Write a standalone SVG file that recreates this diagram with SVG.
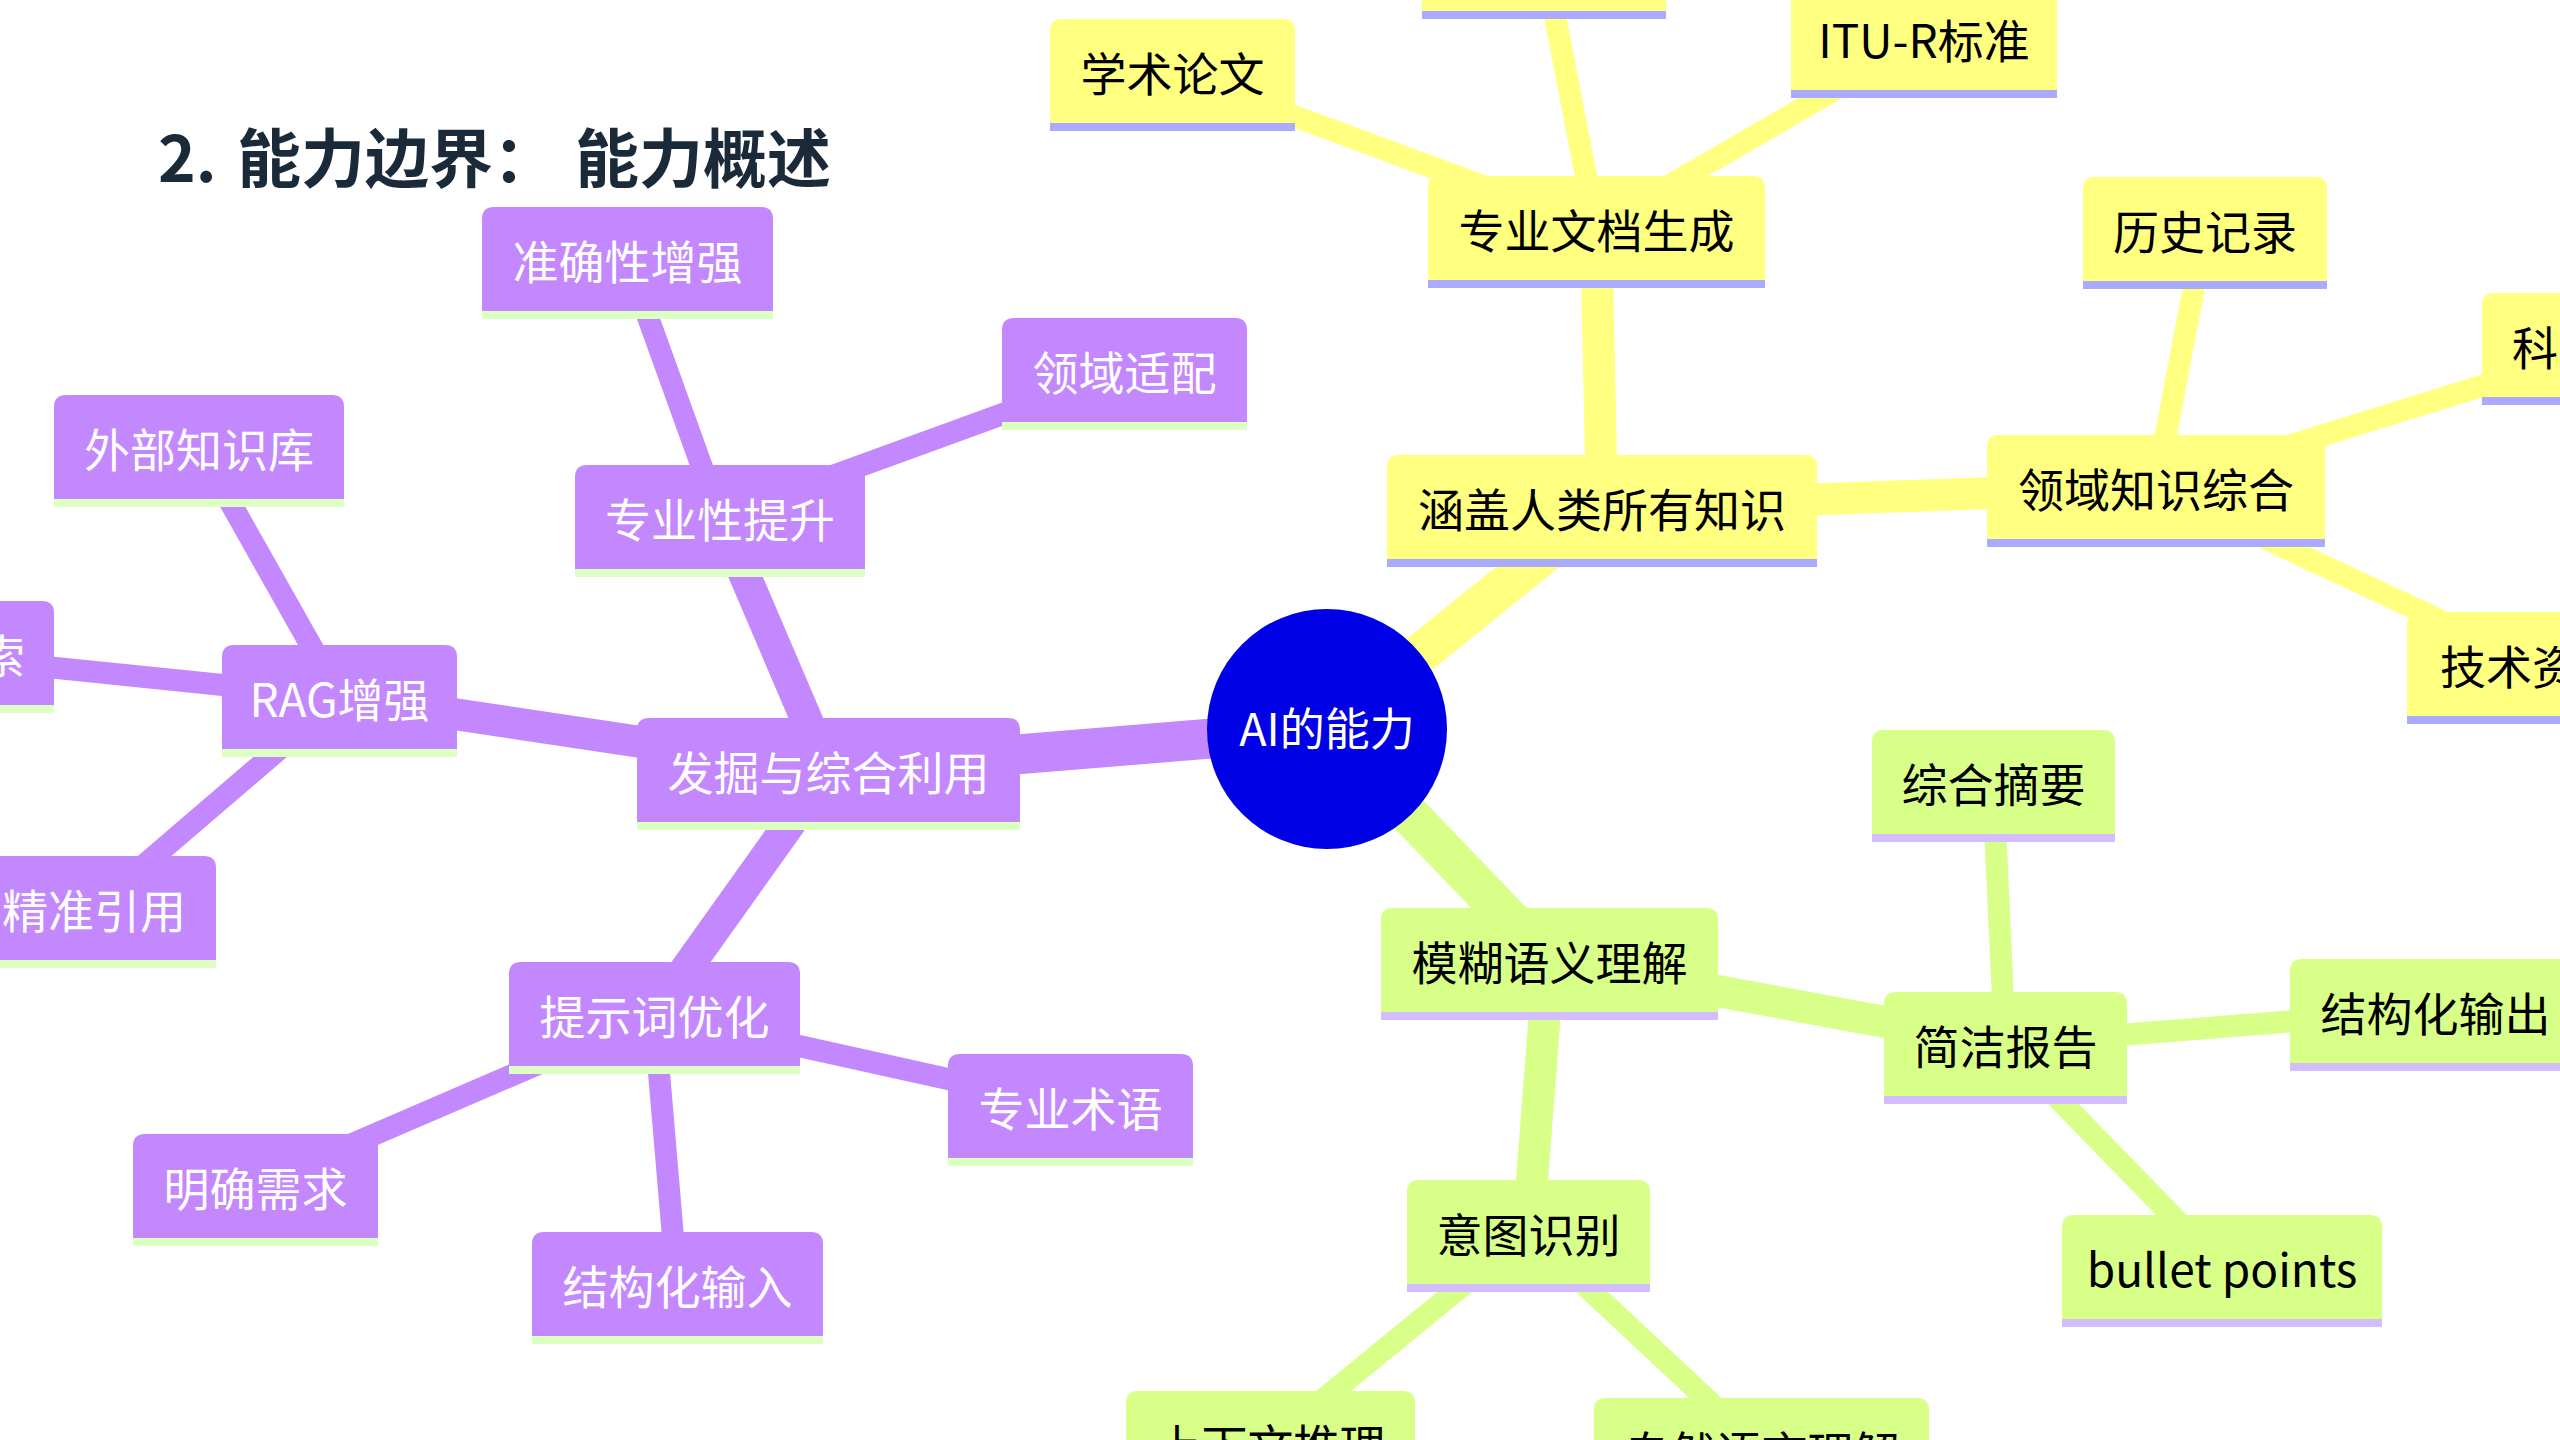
<svg xmlns="http://www.w3.org/2000/svg" width="2560" height="1440" viewBox="0 0 2560 1440">
<style>
text{font-family:"Noto Sans CJK SC","Noto Sans",sans-serif;font-size:46px}
.title{font-size:64px;font-weight:bold;fill:#1b2a39}
.p{fill:#c488fe}.ps{fill:#dcffc2}.pt{fill:#ffffff;text-anchor:middle}
.y{fill:#ffff80}.ys{fill:#aaaaff}.yt{fill:#000000;text-anchor:middle}
.g{fill:#d8ff88}.gs{fill:#d4bdff}.gt{fill:#000000;text-anchor:middle}
.cp{stroke:#c488fe;fill:none}.cy{stroke:#ffff80;fill:none}.cg{stroke:#d8ff88;fill:none}
.l1{stroke-width:40}.l2{stroke-width:32}.l3{stroke-width:22}
.root{fill:#0000e6}.rt{fill:#ffffff;text-anchor:middle;font-size:45px}
</style>
<rect width="2560" height="1440" fill="#ffffff"/>
<g id="connectors">
<line class="cy l1" x1="1327" y1="729" x2="1602" y2="507"/>
<line class="cp l1" x1="1327" y1="729" x2="828" y2="770"/>
<line class="cg l1" x1="1327" y1="729" x2="1549" y2="960"/>
<line class="cp l2" x1="828" y1="770" x2="720" y2="517"/>
<line class="cp l2" x1="828" y1="770" x2="340" y2="697"/>
<line class="cp l2" x1="828" y1="770" x2="654" y2="1014"/>
<line class="cy l2" x1="1602" y1="507" x2="1596" y2="228"/>
<line class="cy l2" x1="1602" y1="507" x2="2156" y2="487"/>
<line class="cg l2" x1="1549" y1="960" x2="2005" y2="1044"/>
<line class="cg l2" x1="1549" y1="960" x2="1528" y2="1232"/>
<line class="cp l3" x1="720" y1="517" x2="627" y2="259"/>
<line class="cp l3" x1="720" y1="517" x2="1124" y2="370"/>
<line class="cp l3" x1="340" y1="697" x2="-90" y2="653"/>
<line class="cp l3" x1="340" y1="697" x2="199" y2="447"/>
<line class="cp l3" x1="340" y1="697" x2="94" y2="908"/>
<line class="cp l3" x1="654" y1="1014" x2="1070" y2="1106"/>
<line class="cp l3" x1="654" y1="1014" x2="255" y2="1186"/>
<line class="cp l3" x1="654" y1="1014" x2="677" y2="1284"/>
<line class="cy l3" x1="1596" y1="228" x2="1172" y2="71"/>
<line class="cy l3" x1="1596" y1="228" x2="1544" y2="-41"/>
<line class="cy l3" x1="1596" y1="228" x2="1924" y2="38"/>
<line class="cy l3" x1="2156" y1="487" x2="2205" y2="229"/>
<line class="cy l3" x1="2156" y1="487" x2="2614" y2="345"/>
<line class="cy l3" x1="2156" y1="487" x2="2533" y2="664"/>
<line class="cg l3" x1="2005" y1="1044" x2="1993" y2="782"/>
<line class="cg l3" x1="2005" y1="1044" x2="2435" y2="1010"/>
<line class="cg l3" x1="2005" y1="1044" x2="2222" y2="1267"/>
<line class="cg l3" x1="1528" y1="1232" x2="1270" y2="1443"/>
<line class="cg l3" x1="1528" y1="1232" x2="1761" y2="1450"/>
</g>
<text class="title" y="182"><tspan x="158">2.</tspan><tspan x="237">能力边界：</tspan><tspan x="575">能力概述</tspan></text>
<g id="root"><circle class="root" cx="1327" cy="729" r="120"/><text class="rt" x="1327" y="746">AI的能力</text></g>
<!-- purple -->
<g id="n-zhunque"><path class="p" d="M482,311V219Q482,207 494,207H761Q773,207 773,219V311Z"/><rect class="ps" x="482" y="311" width="291" height="8"/><text class="pt" x="627.5" y="279">准确性增强</text></g>
<g id="n-lingyushipei"><path class="p" d="M1002,422V330Q1002,318 1014,318H1235Q1247,318 1247,330V422Z"/><rect class="ps" x="1002" y="422" width="245" height="8"/><text class="pt" x="1124.5" y="390">领域适配</text></g>
<g id="n-waibu"><path class="p" d="M54,499V407Q54,395 66,395H332Q344,395 344,407V499Z"/><rect class="ps" x="54" y="499" width="290" height="8"/><text class="pt" x="199" y="467">外部知识库</text></g>
<g id="n-zhuanyexing"><path class="p" d="M575,569V477Q575,465 587,465H853Q865,465 865,477V569Z"/><rect class="ps" x="575" y="569" width="290" height="8"/><text class="pt" x="720" y="537">专业性提升</text></g>
<g id="n-suo"><path class="p" d="M-234,705V613Q-234,601 -222,601H42Q54,601 54,613V705Z"/><rect class="ps" x="-234" y="705" width="288" height="8"/><text class="pt" x="25" y="673" style="text-anchor:end">索</text></g>
<g id="n-rag"><path class="p" d="M222,749V657Q222,645 234,645H445Q457,645 457,657V749Z"/><rect class="ps" x="222" y="749" width="235" height="8"/><text class="pt" x="339.5" y="717">RAG增强</text></g>
<g id="n-fajue"><path class="p" d="M637,822V730Q637,718 649,718H1008Q1020,718 1020,730V822Z"/><rect class="ps" x="637" y="822" width="383" height="8"/><text class="pt" x="828.5" y="790">发掘与综合利用</text></g>
<g id="n-jingzhun"><path class="p" d="M-28,960V868Q-28,856 -16,856H204Q216,856 216,868V960Z"/><rect class="ps" x="-28" y="960" width="244" height="8"/><text class="pt" x="94" y="928">精准引用</text></g>
<g id="n-tishici"><path class="p" d="M509,1066V974Q509,962 521,962H788Q800,962 800,974V1066Z"/><rect class="ps" x="509" y="1066" width="291" height="8"/><text class="pt" x="654.5" y="1034">提示词优化</text></g>
<g id="n-shuyu"><path class="p" d="M948,1158V1066Q948,1054 960,1054H1181Q1193,1054 1193,1066V1158Z"/><rect class="ps" x="948" y="1158" width="245" height="8"/><text class="pt" x="1070.5" y="1126">专业术语</text></g>
<g id="n-mingque"><path class="p" d="M133,1238V1146Q133,1134 145,1134H366Q378,1134 378,1146V1238Z"/><rect class="ps" x="133" y="1238" width="245" height="8"/><text class="pt" x="255.5" y="1206">明确需求</text></g>
<g id="n-jiegouinput"><path class="p" d="M532,1336V1244Q532,1232 544,1232H811Q823,1232 823,1244V1336Z"/><rect class="ps" x="532" y="1336" width="291" height="8"/><text class="pt" x="677.5" y="1304">结构化输入</text></g>
<!-- yellow -->
<g id="n-hangai"><path class="y" d="M1387,559V467Q1387,455 1399,455H1805Q1817,455 1817,467V559Z"/><rect class="ys" x="1387" y="559" width="430" height="8"/><text class="yt" x="1602" y="527">涵盖人类所有知识</text></g>
<g id="n-wendang"><path class="y" d="M1428,280V188Q1428,176 1440,176H1753Q1765,176 1765,188V280Z"/><rect class="ys" x="1428" y="280" width="337" height="8"/><text class="yt" x="1596.5" y="248">专业文档生成</text></g>
<g id="n-xueshu"><path class="y" d="M1050,123V31Q1050,19 1062,19H1283Q1295,19 1295,31V123Z"/><rect class="ys" x="1050" y="123" width="245" height="8"/><text class="yt" x="1172.5" y="91">学术论文</text></g>
<g id="n-topcut"><path class="y" d="M1422,11V-82Q1422,-94 1434,-94H1654Q1666,-94 1666,-82V11Z"/><rect class="ys" x="1422" y="11" width="244" height="8"/></g>
<g id="n-itur"><path class="y" d="M1791,90V-2Q1791,-14 1803,-14H2045Q2057,-14 2057,-2V90Z"/><rect class="ys" x="1791" y="90" width="266" height="8"/><text class="yt" x="1924" y="58">ITU-R标准</text></g>
<g id="n-lingyuzhishi"><path class="y" d="M1987,539V447Q1987,435 1999,435H2313Q2325,435 2325,447V539Z"/><rect class="ys" x="1987" y="539" width="338" height="8"/><text class="yt" x="2156" y="507">领域知识综合</text></g>
<g id="n-lishi"><path class="y" d="M2083,281V189Q2083,177 2095,177H2315Q2327,177 2327,189V281Z"/><rect class="ys" x="2083" y="281" width="244" height="8"/><text class="yt" x="2205" y="249">历史记录</text></g>
<g id="n-ke"><path class="y" d="M2482,397V305Q2482,293 2494,293H2734Q2746,293 2746,305V397Z"/><rect class="ys" x="2482" y="397" width="264" height="8"/><text class="yt" x="2512" y="365" style="text-anchor:start">科</text></g>
<g id="n-jishu"><path class="y" d="M2407,716V624Q2407,612 2419,612H2647Q2659,612 2659,624V716Z"/><rect class="ys" x="2407" y="716" width="252" height="8"/><text class="yt" x="2440" y="684" style="text-anchor:start">技术资</text></g>
<!-- green -->
<g id="n-zhaiyao"><path class="g" d="M1872,834V742Q1872,730 1884,730H2103Q2115,730 2115,742V834Z"/><rect class="gs" x="1872" y="834" width="243" height="8"/><text class="gt" x="1993.5" y="802">综合摘要</text></g>
<g id="n-mohu"><path class="g" d="M1381,1012V920Q1381,908 1393,908H1706Q1718,908 1718,920V1012Z"/><rect class="gs" x="1381" y="1012" width="337" height="8"/><text class="gt" x="1549.5" y="980">模糊语义理解</text></g>
<g id="n-jianjie"><path class="g" d="M1884,1096V1004Q1884,992 1896,992H2115Q2127,992 2127,1004V1096Z"/><rect class="gs" x="1884" y="1096" width="243" height="8"/><text class="gt" x="2005.5" y="1064">简洁报告</text></g>
<g id="n-jiegououtput"><path class="g" d="M2290,1063V971Q2290,959 2302,959H2569Q2581,959 2581,971V1063Z"/><rect class="gs" x="2290" y="1063" width="291" height="8"/><text class="gt" x="2435.5" y="1031">结构化输出</text></g>
<g id="n-yitu"><path class="g" d="M1407,1284V1192Q1407,1180 1419,1180H1638Q1650,1180 1650,1192V1284Z"/><rect class="gs" x="1407" y="1284" width="243" height="8"/><text class="gt" x="1528.5" y="1252">意图识别</text></g>
<g id="n-bullet"><path class="g" d="M2062,1319V1227Q2062,1215 2074,1215H2370Q2382,1215 2382,1227V1319Z"/><rect class="gs" x="2062" y="1319" width="320" height="8"/><text class="gt" x="2222" y="1287">bullet points</text></g>
<g id="n-shangxiawen"><path class="g" d="M1126,1495V1403Q1126,1391 1138,1391H1403Q1415,1391 1415,1403V1495Z"/><text class="gt" x="1270.5" y="1463">上下文推理</text></g>
<g id="n-ziran"><path class="g" d="M1594,1502V1410Q1594,1398 1606,1398H1917Q1929,1398 1929,1410V1502Z"/><text class="gt" x="1761.5" y="1470">自然语言理解</text></g>
</svg>
